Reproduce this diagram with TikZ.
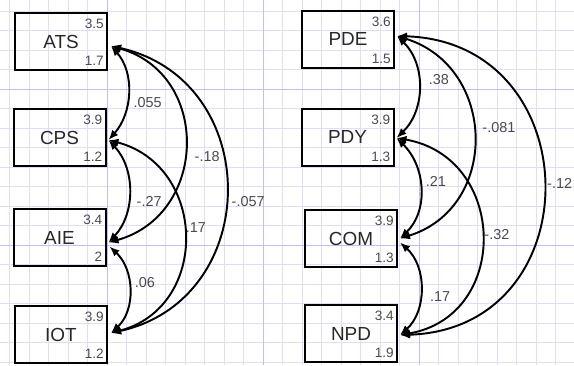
\documentclass[tikz,border=0pt]{standalone}
\usepackage{fontspec}
\setmainfont{Liberation Sans}
\usetikzlibrary{arrows.meta,calc}
\definecolor{gridminor}{RGB}{222,222,248}
\definecolor{gridmajor}{RGB}{192,192,238}
\definecolor{txt}{RGB}{40,40,40}
\definecolor{numc}{RGB}{75,75,75}
\begin{document}
\begin{tikzpicture}[x=0.75pt,y=-0.75pt,
  var/.style={draw=black, line width=1.5pt, minimum width=69pt, minimum height=42.75pt,
    inner sep=0pt, font=\fontsize{14.2}{14}\selectfont, text=txt},
  num/.style={inner sep=0pt, anchor=east, font=\fontsize{10.2}{10}\selectfont, text=numc},
  cov/.style={{Latex[length=7.5pt,width=6pt]}-{Latex[length=7.5pt,width=6pt]}, line width=1.45pt},
  elab/.style={inner sep=0pt, anchor=west, font=\fontsize{10.8}{11}\selectfont, text=numc}]
\useasboundingbox (0,0) rectangle (574,365);
\fill[white] (0,0) rectangle (574,365);
% grid
\foreach \i in {0,...,28} \draw[gridminor, line width=0.65pt] ({9.5+19.5*\i},0) -- ({9.5+19.5*\i},365);
\foreach \j in {0,...,18} \draw[gridminor, line width=0.65pt] (0,{11+19.5*\j}) -- (574,{11+19.5*\j});
\foreach \x in {107,263,419} \draw[gridmajor, line width=0.75pt] (\x,0) -- (\x,365);
\foreach \y in {89,245} \draw[gridmajor, line width=0.75pt] (0,\y) -- (574,\y);
% boxes left
\node[var] (ats) at (61,41.5) {ATS};
\node[var] (cps) at (59.5,137.5) {CPS};
\node[var] (aie) at (59.5,237.5) {AIE};
\node[var] (iot) at (61,334.5) {IOT};
% boxes right
\node[var] (pde) at (348,39) {PDE};
\node[var] (pdy) at (347.5,137) {PDY};
\node[var] (com) at (351,238.5) {COM};
\node[var] (npd) at (351,333.5) {NPD};
% small numbers
\foreach \n/\a/\b in {ats/3.5/1.7, cps/3.9/1.2, aie/3.4/2, iot/3.9/1.2, pde/3.6/1.5, pdy/3.9/1.3, com/3.9/1.3, npd/3.4/1.9}{
  \node[num] (\n t) at ($(\n.north east)+(-4,12)$) {\a};
  \node[num] (\n b) at ($(\n.south east)+(-4,-10)$) {\b};
}
% covariances left
\draw[cov] ($(ats.east)+(3,4.5)$) .. controls +(24,27) and +(24,-27) .. node[elab, pos=0.5, shift={(5,10)}] {.055} ($(cps.east)+(2,2.5)$);
\draw[cov] ($(ats.east)+(3,4.5)$) .. controls +(100,28) and +(100,-28) .. node[elab, pos=0.5, shift={(9,12.5)}] {-.18} ($(aie.east)+(2,5)$);
\draw[cov] ($(ats.east)+(3,4.5)$) .. controls +(153,34) and +(153,-34) .. node[elab, pos=0.5, shift={(5,12.5)}] {-.057} ($(iot.east)+(3,-1.5)$);
\draw[cov] ($(cps.east)+(2,2.5)$) .. controls +(27,29) and +(27,-29) .. node[elab, pos=0.5, shift={(7,10.5)}] {-.27} ($(aie.east)+(2,5)$);
\draw[cov] ($(cps.east)+(2,2.5)$) .. controls +(99,26) and +(99,-26) .. node[elab, pos=0.5, shift={(1,-8.5)}] {.17} ($(iot.east)+(3,-1.5)$);
\draw[cov] ($(aie.east)+(3,9)$) .. controls +(25,23) and +(25,-23) .. node[elab, pos=0.5, shift={(5,-7.5)}] {.06} ($(iot.east)+(3,-1.5)$);
% covariances right
\draw[cov] ($(pde.east)+(2,-3)$) .. controls +(29,28) and +(29,-28) .. node[elab, pos=0.5, shift={(9.5,-7)}] {.38} ($(pdy.east)+(2,1)$);
\draw[cov] ($(pde.east)+(2,-3)$) .. controls +(100,31) and +(100,-31) .. node[elab, pos=0.5, shift={(8,-10)}] {-.081} ($(com.east)+(2,0)$);
\draw[cov] ($(pde.east)+(2,-3)$) .. controls +(193,6) and +(193,-6) .. node[elab, pos=0.5, shift={(3,-2.5)}] {-.12} ($(npd.east)+(2,1.5)$);
\draw[cov] ($(pdy.east)+(2,1)$) .. controls +(29,28) and +(29,-28) .. node[elab, pos=0.5, shift={(5,-7)}] {.21} ($(com.east)+(2,0)$);
\draw[cov] ($(pdy.east)+(2,1)$) .. controls +(111,19) and +(111,-19) .. node[elab, pos=0.5, shift={(2,-1.5)}] {-.32} ($(npd.east)+(2,1.5)$);
\draw[cov] ($(com.east)+(2,4)$) .. controls +(27,24) and +(27,-24) .. node[elab, pos=0.5, shift={(9,8)}] {.17} ($(npd.east)+(2,1.5)$);
\end{tikzpicture}
\end{document}
